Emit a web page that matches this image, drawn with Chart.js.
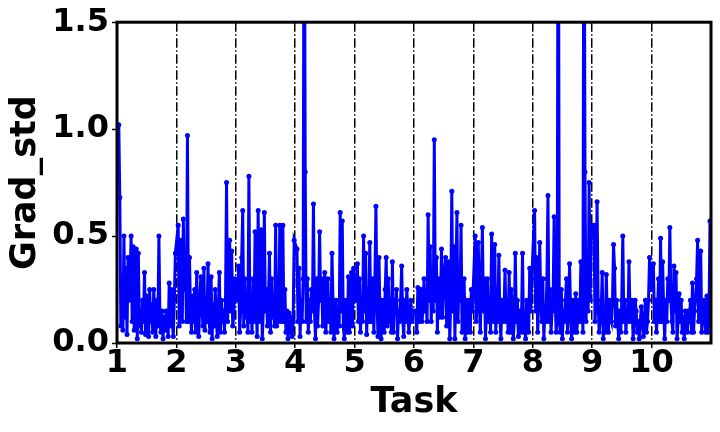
<!DOCTYPE html>
<html>
<head>
<meta charset="utf-8">
<script src="https://cdn.jsdelivr.net/npm/chart.js@4"></script>
<style>
  html, body { margin: 0; padding: 0; background: #fff; }
  #wrap { width: 720px; height: 432px; }
</style>
</head>
<body>
<div id="wrap"><canvas id="gradChart" width="720" height="432"></canvas></div>
<script>
// grad std per step, one list per task
const task1 = [1.02, 0.68, 0.08, 0.3, 0.06, 0.5, 0.12, 0.35, 0.04, 0.4, 0.2, 0.3, 0.5, 0.1, 0.45, 0.06, 0.2, 0.44, 0.02, 0.42, 0.08, 0.15, 0.05, 0.2, 0.1, 0.33, 0.04, 0.22, 0.15, 0.03, 0.25, 0.1, 0.18, 0.05, 0.25, 0.12, 0.03, 0.2, 0.08, 0.5, 0.1, 0.05, 0.15, 0.02, 0.12, 0.06, 0.15, 0.1, 0.03, 0.28, 0.08, 0.25, 0.1, 0.03, 0.2, 0.42];
const task2 = [0.55, 0.08, 0.48, 0.2, 0.1, 0.58, 0.25, 0.4, 0.1, 0.97, 0.1, 0.4, 0.15, 0.05, 0.22, 0.1, 0.25, 0.05, 0.33, 0.12, 0.03, 0.2, 0.31, 0.18, 0.08, 0.35, 0.06, 0.2, 0.1, 0.37, 0.1, 0.05, 0.31, 0.02, 0.18, 0.08, 0.25, 0.12, 0.03, 0.15, 0.33, 0.05, 0.2, 0.1, 0.15, 0.05, 0.2, 0.75, 0.1, 0.3, 0.48, 0.15, 0.43, 0.08, 0.12, 0.3];
const task3 = [0.2, 0.36, 0.05, 0.15, 0.4, 0.62, 0.08, 0.3, 0.12, 0.2, 0.05, 0.78, 0.1, 0.22, 0.05, 0.3, 0.1, 0.52, 0.2, 0.03, 0.62, 0.1, 0.25, 0.53, 0.02, 0.15, 0.61, 0.15, 0.25, 0.08, 0.2, 0.42, 0.05, 0.3, 0.12, 0.2, 0.08, 0.55, 0.08, 0.3, 0.1, 0.55, 0.2, 0.1, 0.55, 0.1, 0.25, 0.05, 0.15, 0.02, 0.14, 0.05, 0.12, 0.03, 0.1, 0.48];
const task4 = [0.44, 0.1, 0.35, 0.03, 0.2, 0.1, 0.3, 2.6, 0.8, 0.1, 0.3, 0.05, 0.2, 0.1, 0.25, 0.15, 0.65, 0.15, 0.02, 0.3, 0.08, 0.2, 0.52, 0.2, 0.3, 0.08, 0.25, 0.33, 0.05, 0.15, 0.3, 0.1, 0.2, 0.05, 0.42, 0.2, 0.02, 0.12, 0.2, 0.05, 0.15, 0.08, 0.61, 0.15, 0.57, 0.08, 0.02, 0.2, 0.1, 0.05, 0.31, 0.05, 0.15, 0.33, 0.08, 0.35];
const task5 = [0.2, 0.37, 0.1, 0.3, 0.05, 0.2, 0.1, 0.5, 0.15, 0.42, 0.04, 0.25, 0.1, 0.47, 0.1, 0.3, 0.2, 0.05, 0.3, 0.64, 0.2, 0.03, 0.4, 0.1, 0.02, 0.2, 0.15, 0.05, 0.25, 0.4, 0.08, 0.3, 0.1, 0.2, 0.05, 0.38, 0.05, 0.2, 0.15, 0.25, 0.02, 0.15, 0.1, 0.2, 0.36, 0.12, 0.03, 0.2, 0.1, 0.25, 0.15, 0.05, 0.12, 0.2, 0.1, 0.15];
const task6 = [0.15, 0.05, 0.26, 0.1, 0.18, 0.25, 0.1, 0.15, 0.3, 0.15, 0.2, 0.1, 0.6, 0.2, 0.45, 0.1, 0.3, 0.15, 0.95, 0.2, 0.4, 0.05, 0.3, 0.12, 0.2, 0.44, 0.12, 0.25, 0.35, 0.4, 0.08, 0.25, 0.38, 0.02, 0.2, 0.71, 0.15, 0.45, 0.02, 0.3, 0.61, 0.1, 0.3, 0.2, 0.55, 0.05, 0.15, 0.3, 0.02, 0.2, 0.05, 0.1, 0.2, 0.05, 0.25, 0.15];
const task7 = [0.5, 0.1, 0.2, 0.47, 0.2, 0.05, 0.3, 0.54, 0.15, 0.3, 0.02, 0.15, 0.3, 0.1, 0.2, 0.05, 0.51, 0.2, 0.1, 0.46, 0.05, 0.25, 0.1, 0.41, 0.12, 0.02, 0.2, 0.1, 0.15, 0.34, 0.1, 0.2, 0.05, 0.33, 0.05, 0.25, 0.15, 0.02, 0.1, 0.42, 0.1, 0.2, 0.03, 0.15, 0.05, 0.1, 0.42, 0.05, 0.1, 0.02, 0.2, 0.1, 0.05, 0.35, 0.15, 0.3];
const task8 = [0.62, 0.15, 0.4, 0.05, 0.2, 0.47, 0.2, 0.1, 0.3, 0.02, 0.15, 0.1, 0.3, 0.69, 0.1, 0.25, 0.05, 0.15, 0.2, 0.59, 0.2, 0.05, 0.15, 2.8, 0.1, 0.05, 0.25, 0.02, 0.15, 0.1, 0.2, 0.3, 0.05, 0.15, 0.37, 0.15, 0.02, 0.2, 0.1, 0.05, 0.23, 0.05, 0.12, 0.2, 0.1, 0.38, 0.2, 0.05, 2.6, 0.8, 0.1, 0.3, 0.15, 0.75, 0.2, 0.55];
const task9 = [0.55, 0.1, 0.2, 0.66, 0.2, 0.05, 0.1, 0.15, 0.33, 0.02, 0.15, 0.05, 0.32, 0.1, 0.05, 0.2, 0.12, 0.1, 0.2, 0.46, 0.35, 0.08, 0.2, 0.1, 0.02, 0.15, 0.05, 0.2, 0.5, 0.1, 0.2, 0.05, 0.15, 0.1, 0.38, 0.15, 0.1, 0.2, 0.02, 0.1, 0.2, 0.15, 0.05, 0.1, 0.02, 0.1, 0.17, 0.1, 0.03, 0.12, 0.2, 0.05, 0.1, 0.2, 0.4, 0.25];
const task10 = [0.37, 0.1, 0.2, 0.05, 0.15, 0.3, 0.1, 0.49, 0.1, 0.38, 0.15, 0.02, 0.2, 0.1, 0.3, 0.2, 0.54, 0.2, 0.1, 0.05, 0.36, 0.15, 0.33, 0.02, 0.1, 0.23, 0.1, 0.2, 0.05, 0.12, 0.02, 0.15, 0.1, 0.05, 0.15, 0.1, 0.2, 0.05, 0.28, 0.05, 0.15, 0.2, 0.3, 0.48, 0.1, 0.25, 0.43, 0.05, 0.15, 0.2, 0.1, 0.05, 0.22, 0.05, 0.1, 0.57];

const tasks = [task1, task2, task3, task4, task5, task6, task7, task8, task9, task10];
const taskTicks = [1, 2, 3, 4, 5, 6, 7, 8, 9, 10];
const yTicks = [0, 0.5, 1.0, 1.5];

// each task spans one unit on the x axis
const points = [];
tasks.forEach((vals, t) => {
    vals.forEach((v, j) => points.push({ x: t + 1.03 + j / vals.length * 0.97, y: v }));
});

const FONT = 'DejaVu Sans';

// full black frame around the plot, drawn over the data like matplotlib spines
const framePlugin = {
    id: 'frame',
    afterDatasetsDraw(chart) {
        const { ctx, chartArea: a } = chart;
        ctx.save();
        ctx.strokeStyle = '#000';
        ctx.lineWidth = 3;
        ctx.strokeRect(a.left, a.top, a.right - a.left, a.bottom - a.top);
        ctx.restore();
    }
};

new Chart(document.getElementById('gradChart'), {
    type: 'line',
    data: {
        datasets: [{
            data: points,
            borderColor: '#0000ff',
            backgroundColor: '#0000ff',
            borderWidth: 3,
            pointRadius: 2.5,
            pointBorderWidth: 0,
            tension: 0
        }]
    },
    options: {
        responsive: false,
        animation: false,
        events: [],
        layout: { padding: { top: 22, right: 9, left: 0, bottom: 0 } },
        plugins: { legend: { display: false }, tooltip: { enabled: false } },
        scales: {
            x: {
                type: 'linear',
                min: 1,
                max: 11,
                afterBuildTicks: (scale) => { scale.ticks = taskTicks.map(v => ({ value: v })); },
                afterFit: (scale) => { scale.height = 89; },
                grid: {
                    color: (c) => (c.tick && c.tick.value === 1 ? 'rgba(0,0,0,0)' : '#000'),
                    lineWidth: 1.5,
                    tickColor: '#000',
                    tickLength: 5,
                    tickWidth: 1.5
                },
                border: { display: false, dash: [9.6, 2.4, 1.6, 2.4] },
                ticks: {
                    color: '#000',
                    padding: 0,
                    maxRotation: 0,
                    autoSkip: false,
                    font: { family: FONT, size: 32, weight: 'bold', lineHeight: 1 },
                    callback: (v) => String(v)
                },
                title: {
                    display: true,
                    text: 'Task',
                    color: '#000',
                    padding: { top: 0, bottom: 8 },
                    font: { family: FONT, size: 35, weight: 'bold', lineHeight: 1.2 }
                }
            },
            y: {
                min: 0,
                max: 1.5,
                afterBuildTicks: (scale) => { scale.ticks = yTicks.map(v => ({ value: v })); },
                afterFit: (scale) => { scale.width = 117; },
                grid: {
                    drawOnChartArea: false,
                    tickColor: '#000',
                    tickLength: 5,
                    tickWidth: 1.5
                },
                border: { display: false },
                ticks: {
                    color: '#000',
                    padding: 3,
                    font: { family: FONT, size: 32, weight: 'bold' },
                    callback: (v) => v.toFixed(1)
                },
                title: {
                    display: true,
                    text: 'Grad_std',
                    color: '#000',
                    padding: { top: 5, bottom: 0 },
                    font: { family: FONT, size: 35, weight: 'bold', lineHeight: 1.2 }
                }
            }
        }
    },
    plugins: [framePlugin]
});
</script>
</body>
</html>
